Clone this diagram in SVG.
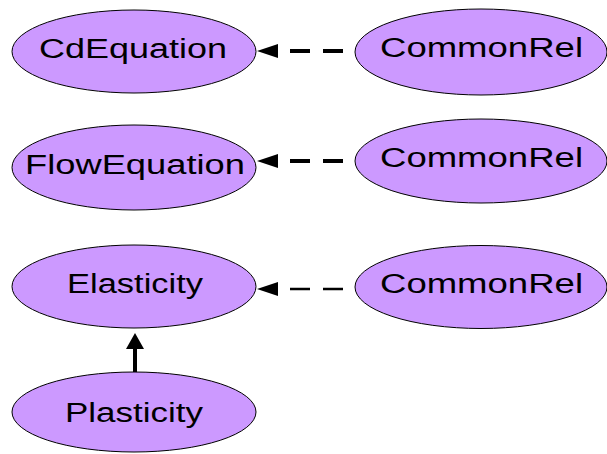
<svg xmlns="http://www.w3.org/2000/svg" width="607" height="454" viewBox="0 0 607 454">
<defs>
<style>
.node ellipse{fill:#cc99ff;stroke:#000;stroke-width:1}
.node text{font-family:"Liberation Sans",Arial,sans-serif;font-size:27px;fill:#000}
.dep{stroke:#000;stroke-width:4;stroke-dasharray:20 13;fill:none}
.thin{stroke-width:2.5}
.inh{stroke:#000;stroke-width:4;fill:none}
</style>
</defs>
<rect width="607" height="454" fill="#fff"/>
<g id="connectors">
<path class="dep" d="M343,51 L288,51"/>
<path d="M278,44 L257,51 L278,58 Z" fill="#000"/>
<path class="dep" d="M343,161 L288,161"/>
<path d="M278,154 L257,161 L278,168 Z" fill="#000"/>
<path class="dep thin" d="M343,289 L288,289"/>
<path d="M278,282 L257,289 L278,296 Z" fill="#000"/>
<path class="inh" d="M135,373 L135,349"/>
<path d="M126,349 L135,333 L144,349 Z" fill="#000"/>
</g>
<g id="CdEquation" class="node">
<ellipse cx="134" cy="51.5" rx="122" ry="41.5"/>
<text x="39" y="58" textLength="188" lengthAdjust="spacingAndGlyphs">CdEquation</text>
</g>
<g id="CommonRel1" class="node">
<ellipse cx="481" cy="52" rx="126" ry="43"/>
<text x="380" y="57" textLength="203" lengthAdjust="spacingAndGlyphs">CommonRel</text>
</g>
<g id="FlowEquation" class="node">
<ellipse cx="134" cy="167.5" rx="122" ry="42.5"/>
<text x="25" y="174" textLength="220" lengthAdjust="spacingAndGlyphs">FlowEquation</text>
</g>
<g id="CommonRel2" class="node">
<ellipse cx="481" cy="161" rx="126" ry="42"/>
<text x="380" y="167" textLength="203" lengthAdjust="spacingAndGlyphs">CommonRel</text>
</g>
<g id="Elasticity" class="node">
<ellipse cx="134" cy="286.5" rx="122" ry="41.5"/>
<text x="67" y="293" textLength="136" lengthAdjust="spacingAndGlyphs">Elasticity</text>
</g>
<g id="CommonRel3" class="node">
<ellipse cx="481" cy="287" rx="126" ry="41.5"/>
<text x="380" y="293" textLength="203" lengthAdjust="spacingAndGlyphs">CommonRel</text>
</g>
<g id="Plasticity" class="node">
<ellipse cx="134" cy="412" rx="122" ry="40"/>
<text x="65" y="422" textLength="138" lengthAdjust="spacingAndGlyphs">Plasticity</text>
</g>
</svg>
